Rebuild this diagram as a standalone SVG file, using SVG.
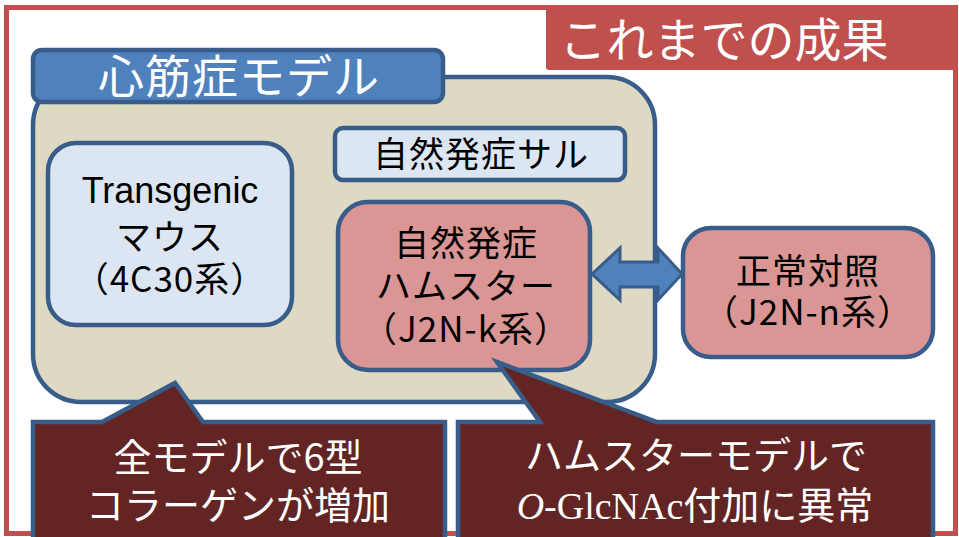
<svg xmlns="http://www.w3.org/2000/svg" width="959" height="537" viewBox="0 0 959 537">
<style>
.jp{font-family:"Noto Sans CJK JP","Liberation Sans",sans-serif;}
.bx{stroke:#385D8A;stroke-width:4.5;}
.blk{fill:#000;text-anchor:middle;font-size:35px;letter-spacing:1px;}
.wh{fill:#fff;text-anchor:middle;}
.lb{fill:#DCE6F2;}
.pk{fill:#D99694;}
.dr{fill:#632523;}
</style>
<rect width="959" height="537" fill="#fff"/>
<g id="frame">
<rect x="6.5" y="7.5" width="949" height="526" fill="none" stroke="#C0504D" stroke-width="5"/>
</g>
<g id="title">
<rect x="546" y="6" width="411" height="64" rx="3" fill="#C0504D"/>
<text x="724" y="57" class="jp wh" font-size="47">これまでの成果</text>
</g>
<g id="container">
<rect x="33" y="77" width="622" height="325" rx="48" fill="#DDD9C3" class="bx"/>
<rect x="33" y="50" width="410" height="52" rx="9" fill="#4F81BD" class="bx"/>
<text x="239" y="93" class="jp wh" font-size="46" letter-spacing="1">心筋症モデル</text>
</g>
<g id="monkey">
<rect x="335" y="128" width="290" height="52" rx="8" class="bx lb"/>
<text x="481" y="167" class="jp blk" letter-spacing="2">自然発症サル</text>
</g>
<g id="mouse">
<rect x="48" y="143" width="244" height="182" rx="28" class="bx lb"/>
<text x="170" y="203" fill="#000" text-anchor="middle" font-family="Liberation Sans, Arial, sans-serif" font-size="36">Transgenic</text>
<text x="170" y="250" class="jp blk">マウス</text>
<text x="170" y="292" class="jp blk">（4C30系）</text>
</g>
<g id="hamster">
<rect x="338" y="202" width="252" height="168" rx="30" class="bx pk"/>
<text x="466" y="256" class="jp blk">自然発症</text>
<text x="466" y="299" class="jp blk">ハムスター</text>
<text x="466" y="342" class="jp blk">（J2N-k系）</text>
</g>
<g id="control">
<rect x="683" y="228" width="250" height="129" rx="28" class="bx pk"/>
<text x="808" y="284" class="jp blk">正常対照</text>
<text x="808" y="325" class="jp blk">（J2N-n系）</text>
</g>
<g id="connectors">
<path d="M592,274 L620,248 L620,262 L658,262 L658,248 L682,274 L658,300 L658,287 L620,287 L620,300 Z" fill="#4F81BD" stroke="#385D8A" stroke-width="3" stroke-linejoin="miter"/>
</g>
<g id="callout-left">
<path d="M33,422 L102,422 L175,383 L203,422 L445,422 L445,545 L33,545 Z" class="bx dr" stroke-linejoin="miter"/>
<text x="238" y="471" class="jp wh" font-size="38">全モデルで6型</text>
<text x="238" y="519" class="jp wh" font-size="38">コラーゲンが増加</text>
</g>
<g id="callout-right">
<path d="M458,422 L540,422 L497,362 L657,422 L933,422 L933,545 L458,545 Z" class="bx dr" stroke-linejoin="miter"/>
<text x="696" y="469" class="jp wh" font-size="38">ハムスターモデルで</text>
<text x="695" y="519" class="wh" font-size="38"><tspan font-family="Liberation Serif, serif" font-style="italic">O</tspan><tspan font-family="Liberation Serif, serif">-GlcNAc</tspan><tspan class="jp">付加に異常</tspan></text>
</g>
</svg>
